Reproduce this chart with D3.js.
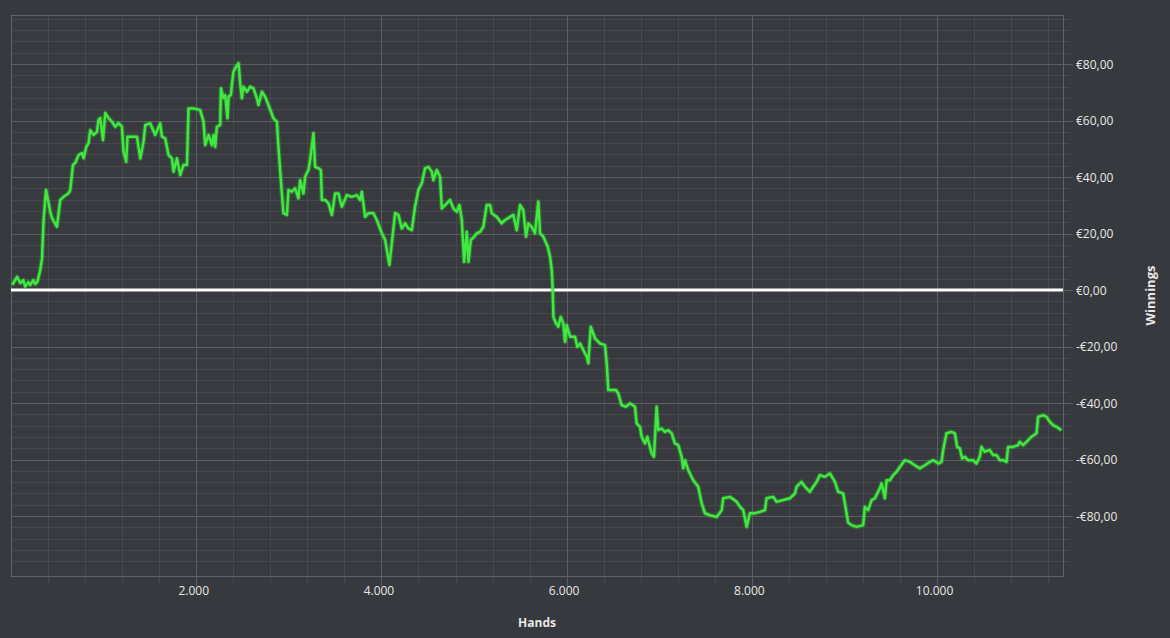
<!DOCTYPE html>
<html>
<head>
<meta charset="utf-8">
<script src="https://cdn.jsdelivr.net/npm/d3@7"></script>
<style>
  html, body { margin: 0; padding: 0; background: #36393d; }
  svg { display: block; }
  text { font-family: "Open Sans", "Noto Sans", sans-serif; }
</style>
</head>
<body>
<svg id="chart" width="1170" height="638"></svg>
<script>
// ---- data ----
const hands = [14,65,100,133,154,187,208,241,262,284,295,316,335,352,378,424,443,496,532,568,622,640,669,694,730,766,784,813,838,856,892,928,945,964,993,1018,1053,1090,1126,1161,1198,1215,1244,1258,1306,1360,1396,1431,1450,1503,1557,1611,1630,1665,1701,1738,1755,1792,1827,1863,1900,1917,1971,2043,2079,2097,2133,2169,2187,2205,2223,2259,2267,2295,2313,2338,2349,2374,2385,2403,2421,2457,2475,2493,2510,2547,2583,2618,2655,2672,2709,2745,2780,2834,2871,2888,2914,2942,2979,2996,3033,3068,3104,3122,3158,3176,3212,3230,3266,3284,3320,3346,3357,3392,3428,3465,3500,3536,3572,3626,3680,3734,3770,3788,3824,3860,3913,3950,4004,4040,4065,4086,4112,4148,4183,4220,4256,4291,4328,4363,4399,4436,4471,4507,4544,4561,4598,4633,4652,4706,4741,4777,4814,4842,4868,4893,4922,4940,4965,5001,5030,5065,5101,5137,5173,5191,5245,5299,5335,5389,5425,5461,5497,5532,5562,5586,5623,5658,5694,5713,5748,5796,5821,5839,5850,5857,5886,5910,5936,5964,5983,6001,6037,6091,6115,6145,6180,6217,6234,6260,6306,6360,6414,6433,6450,6487,6533,6558,6594,6641,6684,6738,6756,6792,6810,6846,6871,6918,6943,6972,6990,7026,7062,7097,7134,7169,7205,7242,7259,7278,7313,7367,7421,7458,7494,7548,7620,7674,7691,7764,7836,7872,7907,7944,7979,8033,8087,8141,8159,8231,8267,8339,8411,8465,8483,8537,8573,8627,8662,8699,8735,8789,8843,8897,8932,8986,9023,9040,9077,9131,9202,9220,9256,9293,9328,9382,9401,9436,9455,9490,9526,9563,9598,9652,9706,9760,9814,9868,9922,9958,10012,10048,10066,10102,10156,10192,10217,10246,10271,10300,10335,10389,10426,10461,10480,10515,10569,10605,10642,10678,10713,10750,10767,10821,10875,10893,10929,10966,11020,11074,11091,11145,11182,11217,11253,11289,11343];
const winnings = [1.8,4.7,2.5,3.5,1.2,2.8,1.8,3.5,2.1,2.9,4.2,7.1,11.2,24.8,35.4,27.7,25.5,22.4,31.9,33.0,34.3,35.4,44.3,45.0,47.8,48.5,46.7,50.7,52.0,56.6,54.9,56.0,60.2,60.9,53.1,62.7,60.9,59.6,57.8,59.1,57.8,49.0,45.4,54.3,54.3,54.3,46.6,52.5,58.4,59.0,54.9,59.0,54.3,53.7,47.8,46.6,41.9,46.6,40.7,44.3,44.3,64.3,64.3,63.7,59.6,51.3,54.9,51.3,54.9,50.7,57.8,58.4,71.4,67.9,69.0,60.8,68.4,69.0,72.6,77.3,78.5,80.3,73.2,67.9,72.0,70.2,72.0,71.4,67.9,65.5,70.2,68.4,65.5,60.8,59.6,50.7,38.9,27.2,26.6,35.4,34.8,36.0,32.5,38.9,34.2,40.1,42.5,46.0,55.5,43.6,43.1,42.5,31.9,31.9,30.7,26.6,34.2,34.2,29.5,33.6,33.0,33.6,31.9,34.8,25.9,27.2,27.2,24.8,20.1,17.7,13.0,8.9,16.5,27.2,26.6,21.8,23.6,21.8,21.2,29.5,35.4,37.8,43.1,43.6,41.9,38.9,42.5,40.1,28.9,30.7,31.9,28.9,27.7,30.1,24.8,10.0,20.6,10.0,17.7,18.9,20.1,20.6,22.4,30.1,30.1,27.2,25.9,23.6,24.8,25.9,26.6,21.2,30.1,28.3,18.9,23.6,22.4,20.1,31.3,20.1,18.9,15.3,11.8,7.1,0,-9.5,-11.8,-13.0,-9.5,-11.8,-18.3,-12.4,-16.5,-16.5,-20.1,-18.9,-21.2,-23.6,-25.9,-13.0,-17.1,-18.9,-19.5,-25.9,-35.4,-35.4,-35.4,-36.6,-40.7,-41.3,-40.1,-41.3,-47.2,-48.4,-51.9,-54.3,-51.9,-57.8,-59.0,-41.3,-49.6,-49.0,-50.2,-49.6,-50.7,-54.3,-54.9,-59.0,-63.1,-60.2,-63.7,-67.3,-69.6,-75.5,-79.0,-79.7,-80.3,-77.9,-73.7,-73.2,-74.9,-76.7,-77.9,-83.8,-79.0,-79.0,-78.5,-77.9,-73.7,-73.2,-74.9,-74.3,-73.7,-72.0,-69.6,-67.9,-69.6,-71.4,-69.6,-67.9,-65.5,-66.1,-64.9,-67.9,-71.4,-72.0,-79.0,-82.3,-83.2,-83.8,-83.2,-76.7,-77.9,-74.3,-73.7,-70.2,-68.4,-73.7,-67.3,-67.3,-65.5,-64.3,-62.6,-60.2,-60.8,-62.0,-63.1,-62.0,-60.8,-60.2,-61.4,-60.8,-56.6,-50.7,-50.2,-50.7,-55.5,-56.0,-59.6,-59.0,-60.2,-60.2,-61.4,-59.0,-55.5,-57.2,-56.6,-58.4,-58.4,-60.2,-60.2,-60.8,-55.5,-55.5,-54.9,-53.7,-54.9,-53.7,-51.9,-50.7,-44.9,-44.3,-44.9,-46.6,-47.8,-48.4,-49.6];
const xMajorTicks = [2000, 4000, 6000, 8000, 10000];
const yMajorTicks = [-80, -60, -40, -20, 0, 20, 40, 60, 80];
const xTitle = "Hands";
const yTitle = "Winnings";

// ---- layout ----
const svg = d3.select("#chart");
const L = 11, R = 1063, T = 15, B = 576;
const x = d3.scaleLinear().domain([0, 11360]).range([L, R]);
const y = d3.scaleLinear().domain([-101.2, 97.35]).range([B, T]);

const xMinor = d3.range(400, 11360, 400).filter(v => v % 2000 !== 0);
const yMinor = d3.range(-100, 97, 4).filter(v => v % 20 !== 0);

svg.append("rect").attr("width", 1170).attr("height", 638).attr("fill", "#36393d");
svg.append("rect").attr("x", L).attr("y", T).attr("width", R - L).attr("height", B - T).attr("fill", "#383a3f");

const fmtEuro = v => (v < 0 ? "-" : "") + "€" + Math.abs(v).toFixed(2).replace(".", ",");
const fmtHands = v => d3.format(",")(v).replace(/,/g, ".");

// minor grid
const g = svg.append("g");
g.selectAll(".yminor").data(yMinor).join("line")
  .attr("x1", L).attr("x2", R + 7)
  .attr("y1", d => Math.round(y(d)) + 0.5).attr("y2", d => Math.round(y(d)) + 0.5)
  .attr("stroke", "#45484d").attr("stroke-width", 1);
g.selectAll(".xminor").data(xMinor).join("line")
  .attr("y1", T).attr("y2", B + 7)
  .attr("x1", d => Math.round(x(d)) + 0.5).attr("x2", d => Math.round(x(d)) + 0.5)
  .attr("stroke", "#45484d").attr("stroke-width", 1);
// major grid
g.selectAll(".ymajor").data(yMajorTicks).join("line")
  .attr("x1", L).attr("x2", R + 10)
  .attr("y1", d => Math.round(y(d)) + 0.5).attr("y2", d => Math.round(y(d)) + 0.5)
  .attr("stroke", "#5a5d62").attr("stroke-width", 1);
g.selectAll(".xmajor").data(xMajorTicks).join("line")
  .attr("y1", T).attr("y2", B + 10)
  .attr("x1", d => Math.round(x(d)) + 0.5).attr("x2", d => Math.round(x(d)) + 0.5)
  .attr("stroke", "#5a5d62").attr("stroke-width", 1);

// plot border
svg.append("rect").attr("x", L + 0.5).attr("y", T + 0.5).attr("width", R - L).attr("height", B - T)
  .attr("fill", "none").attr("stroke", "#5f6267").attr("stroke-width", 1);

// axes labels via d3 axes
const yAxis = d3.axisRight(y).tickValues(yMajorTicks).tickFormat(fmtEuro).tickSize(0).tickPadding(13);
const ya = svg.append("g").attr("transform", `translate(${R},0)`).call(yAxis);
ya.select(".domain").remove();
ya.selectAll("text").attr("fill", "#e8e8e8").style("font-size", "12px").attr("dy", "0.35em");

const xAxis = d3.axisBottom(x).tickValues(xMajorTicks).tickFormat(fmtHands).tickSize(0).tickPadding(10);
const xa = svg.append("g").attr("transform", `translate(-3,${B})`).call(xAxis);
xa.select(".domain").remove();
xa.selectAll("text").attr("fill", "#e8e8e8").style("font-size", "12px");

// zero line
svg.append("line").attr("x1", L).attr("x2", R).attr("y1", y(0)).attr("y2", y(0))
  .attr("stroke", "#ffffff").attr("stroke-width", 3);

// series
const pts = hands.map((h, i) => [h, winnings[i]]);
const line = d3.line().x(d => x(d[0])).y(d => y(d[1]));
svg.append("path").datum(pts).attr("d", line)
  .attr("fill", "none").attr("stroke", "#2fcf2f").attr("stroke-opacity", 0.35)
  .attr("stroke-width", 4.8).attr("stroke-linejoin", "round");
svg.append("path").datum(pts).attr("d", line)
  .attr("fill", "none").attr("stroke", "#40e840")
  .attr("stroke-width", 2.5).attr("stroke-linejoin", "round");

// titles
svg.append("text").attr("x", (L + R) / 2).attr("y", 627).attr("text-anchor", "middle")
  .attr("fill", "#e8e8e8").style("font-size", "12px").style("font-weight", "bold").text(xTitle);
svg.append("text").attr("transform", `translate(1155,${(T + B) / 2}) rotate(-90)`).attr("text-anchor", "middle")
  .attr("fill", "#e8e8e8").style("font-size", "13px").style("font-weight", "bold").text(yTitle);
</script>
</body>
</html>
